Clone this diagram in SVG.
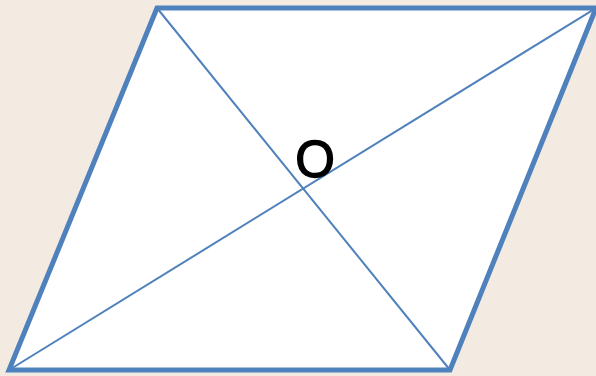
<svg xmlns="http://www.w3.org/2000/svg" width="596" height="376" viewBox="0 0 596 376">
<style>
.edge{stroke:#4f81bd;stroke-width:2;fill:none}
.label{font-family:"Liberation Sans",Arial,sans-serif;font-size:51px;fill:#000;stroke:#000;stroke-width:1.4}
</style>
<rect width="596" height="376" fill="#f3ebe2"/>
<g id="parallelogram">
<polygon points="157,8 596,8 450,370 9,370" fill="#ffffff" stroke="#4f81bd" stroke-width="5" stroke-linejoin="miter"/>
</g>
<g id="connectors">
<line class="edge" x1="157" y1="8" x2="450" y2="370"/>
<line class="edge" x1="9" y1="370" x2="596" y2="8"/>
</g>
<g id="label-O">
<text class="label" x="315" y="177" text-anchor="middle">O</text>
</g>
</svg>
